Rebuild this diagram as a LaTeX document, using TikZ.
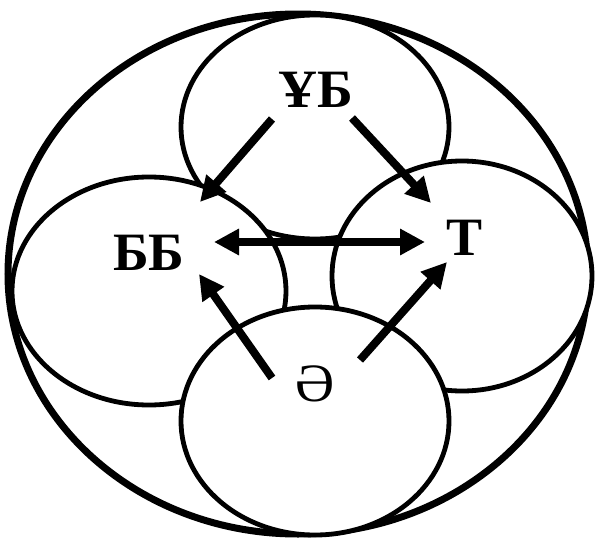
\documentclass[tikz,border=0pt]{standalone}
\usepackage{fontspec}
\setmainfont{Liberation Serif}
\usetikzlibrary{arrows.meta}
\begin{document}
\begin{tikzpicture}[x=1pt,y=-1pt,
  inner/.style={draw=black,fill=white,line width=4.8pt},
  lbl/.style={font=\fontsize{54}{60}\selectfont\bfseries,inner sep=0pt,anchor=base},
  lblr/.style={font=\fontsize{54}{60}\selectfont,inner sep=0pt,anchor=base},
  arr/.style={line width=8pt,-{Triangle[length=25pt,width=25pt]}},
  darr/.style={line width=8pt,{Triangle[length=25pt,width=25pt]}-{Triangle[length=25pt,width=25pt]}}]
\useasboundingbox (0,0) rectangle (595,538);
% outer ellipse
\draw[line width=7pt] (298,274) ellipse [x radius=290pt, y radius=260pt];
% inner ellipses
\draw[inner] (315,127) ellipse [x radius=134pt, y radius=112pt];
\draw[inner] (149,291) ellipse [x radius=137pt, y radius=114pt];
\draw[inner] (462,276) ellipse [x radius=130pt, y radius=115pt];
\draw[inner] (315,421) ellipse [x radius=134pt, y radius=114pt];
% labels (base anchors at the baseline)
\node[lbl] (ub) at (315.5,107) {ҰБ};
\node[lbl] (bb) at (149,270) {ББ};
\node[lbl] (t) at (465,255) {Т};
\node[lblr] (ae) at (315,401) {Ә};
% arrow endpoints
\coordinate (a1s) at (272,119);
\coordinate (a1e) at (200,202);
\coordinate (a2s) at (352,118);
\coordinate (a2e) at (431,203);
\coordinate (d1) at (214,242);
\coordinate (d2) at (425,242);
\coordinate (a3s) at (272,378);
\coordinate (a3e) at (199,274);
\coordinate (a4s) at (360,360);
\coordinate (a4e) at (447,262);
\draw[arr] (a1s) -- (a1e);
\draw[arr] (a2s) -- (a2e);
\draw[darr] (d1) -- (d2);
\draw[arr] (a3s) -- (a3e);
\draw[arr] (a4s) -- (a4e);
\end{tikzpicture}
\end{document}
